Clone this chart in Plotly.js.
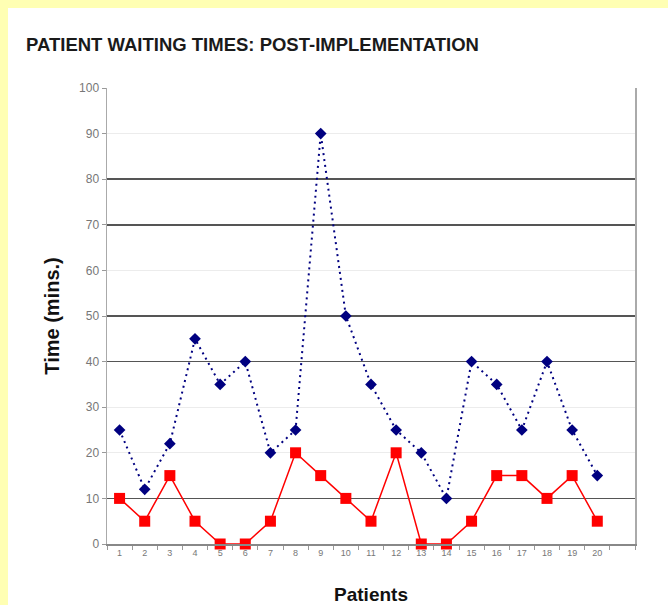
<!DOCTYPE html>
<html>
<head>
<meta charset="utf-8">
<script src="https://cdn.plot.ly/plotly-3.0.1.min.js"></script>
<style>
  html, body { margin: 0; padding: 0; background: #FFFFB3; width: 668px; height: 605px; overflow: hidden; }
  #chart { position: absolute; left: 8px; top: 8px; width: 660px; height: 597px; background: #fff; }
</style>
</head>
<body>
<div id="chart"></div>
<script>
const patients = [1,2,3,4,5,6,7,8,9,10,11,12,13,14,15,16,17,18,19,20];
const tickLabels = ["1","2","3","4","5","6","7","8","9","10","11","12","13","14","15","16","17","18","19","20"];
const seriesBlue = [25,12,22,45,35,40,20,25,90,50,35,25,20,10,40,35,25,40,25,15];
const seriesRed  = [10,5,15,5,0,0,5,20,15,10,5,20,0,0,5,15,15,10,15,5];
const yTicks = [0,10,20,30,40,50,60,70,80,90,100];
const darkGrid = [0,10,40,50,70,80];

const traces = [
  {
    x: [patients[0]], y: [seriesRed[0]], yaxis: 'y2', mode: 'markers',
    marker: {opacity: 0}, hoverinfo: 'skip', showlegend: false
  },
  {
    x: patients, y: seriesBlue, type: 'scatter', mode: 'lines+markers',
    line: {color: '#000080', width: 2, dash: '2px,4px'},
    marker: {symbol: 'diamond', size: 9, color: '#000080'},
    showlegend: false, cliponaxis: false
  },
  {
    x: patients, y: seriesRed, type: 'scatter', mode: 'lines+markers',
    line: {color: '#FF0000', width: 1.5},
    marker: {symbol: 'square', size: 11, color: '#FF0000'},
    showlegend: false, cliponaxis: false
  }
];

const layout = {
  width: 660, height: 597,
  margin: {l: 99, r: 33, t: 80, b: 61},
  paper_bgcolor: '#ffffff', plot_bgcolor: '#ffffff',
  font: {family: 'Liberation Sans, Arial, sans-serif', color: '#555'},
  title: {
    text: 'PATIENT WAITING TIMES: POST-IMPLEMENTATION',
    font: {family: 'Liberation Sans, Arial, sans-serif', size: 18.5, weight: 'bold', color: '#1a1a1a'},
    xref: 'container', x: 18/660, xanchor: 'left',
    yref: 'container', y: 1 - 37/597, yanchor: 'middle'
  },
  xaxis: {
    range: [0.5, 21.5], tickmode: 'array', tickvals: patients, ticktext: tickLabels,
    ticks: '', showgrid: false, zeroline: false,
    showline: true, linecolor: '#888', linewidth: 1.5,
    tickfont: {size: 9, color: '#777'},
    minor: {tick0: 0.5, dtick: 1, ticks: 'outside', ticklen: 4, tickcolor: '#999', tickwidth: 1, showgrid: false},
    title: {text: 'Patients', font: {size: 19, weight: 'bold', color: '#111'}, standoff: 32},
    fixedrange: true
  },
  yaxis: {
    range: [0, 100], tickmode: 'array', tickvals: yTicks,
    ticks: 'outside', ticklen: 4, tickcolor: '#999',
    showgrid: true, gridcolor: '#ececec', gridwidth: 1,
    zeroline: false, showline: true, linecolor: '#aaa', linewidth: 1.5, mirror: true,
    tickfont: {size: 12, color: '#777'},
    title: {text: 'Time (mins.)', font: {size: 20, weight: 'bold', color: '#111'}, standoff: 14},
    fixedrange: true
  },
  yaxis2: {
    overlaying: 'y', range: [0, 100], tickmode: 'array', tickvals: darkGrid,
    showticklabels: false, ticks: '', showgrid: true, gridcolor: '#555', gridwidth: 1.5,
    zeroline: false, showline: false, fixedrange: true
  }
};

Plotly.newPlot('chart', traces, layout, {displayModeBar: false, staticPlot: true});
</script>
</body>
</html>
